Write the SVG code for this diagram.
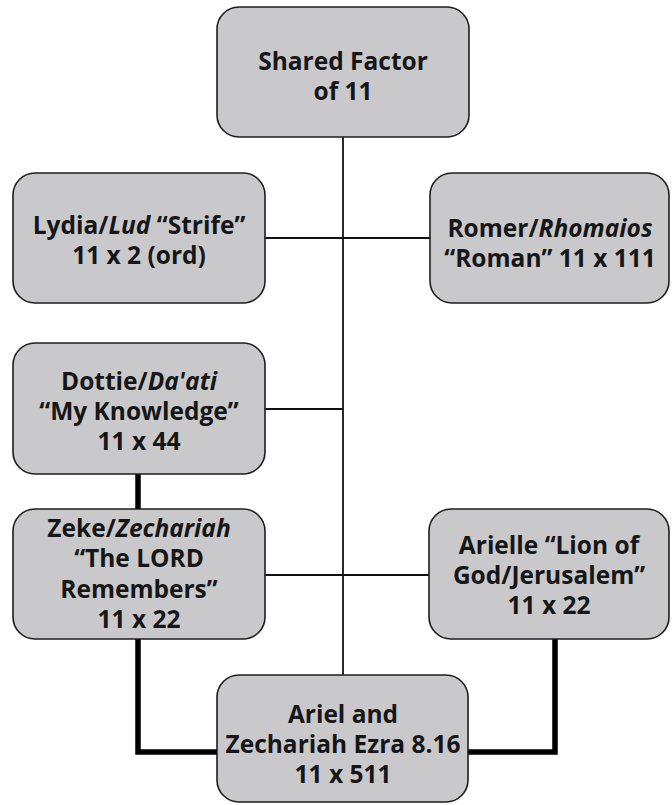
<svg xmlns="http://www.w3.org/2000/svg" width="672" height="805" viewBox="0 0 672 805">
<style>
.box{fill:#c9c9cb;stroke:#1e1e1e;stroke-width:1.6}
.t{font-family:"Open Sans","Liberation Sans",sans-serif;font-weight:700;font-size:24.5px;fill:#161616;text-anchor:middle}
.i{font-style:italic}
.thin{stroke:#111;stroke-width:1.8;fill:none}
.thick{stroke:#000;stroke-width:5.5;fill:none;stroke-linejoin:miter}
</style>
<rect width="672" height="805" fill="#fff"/>
<g id="connectors">
<line class="thin" x1="343" y1="137" x2="343" y2="675"/>
<line class="thin" x1="265" y1="238" x2="430" y2="238"/>
<line class="thin" x1="265" y1="409" x2="343" y2="409"/>
<line class="thin" x1="265" y1="575" x2="429" y2="575"/>
<line class="thick" x1="138" y1="474" x2="138" y2="509"/>
<polyline class="thick" points="138,639 138,752 217,752"/>
<polyline class="thick" points="555,639 555,752 468,752"/>
</g>
<g id="shared">
<rect class="box" x="217" y="7" width="252" height="130" rx="22"/>
<text class="t" x="343" y="70">Shared Factor</text>
<text class="t" x="343" y="100">of 11</text>
</g>
<g id="lydia">
<rect class="box" x="13" y="173" width="252" height="130" rx="22"/>
<text class="t" x="139" y="234">Lydia/<tspan class="i">Lud</tspan> “Strife”</text>
<text class="t" x="139" y="264">11 x 2 (ord)</text>
</g>
<g id="romer">
<rect class="box" x="430" y="173" width="239" height="130" rx="22"/>
<text class="t" x="550" y="237">Romer/<tspan class="i">Rhomaios</tspan></text>
<text class="t" x="550" y="267">“Roman” 11 x 111</text>
</g>
<g id="dottie">
<rect class="box" x="13" y="343" width="252" height="131" rx="22"/>
<text class="t" x="139" y="390">Dottie/<tspan class="i">Da'ati</tspan></text>
<text class="t" x="139" y="420">“My Knowledge”</text>
<text class="t" x="139" y="450">11 x 44</text>
</g>
<g id="zeke">
<rect class="box" x="13" y="509" width="252" height="130" rx="22"/>
<text class="t" x="139" y="537">Zeke/<tspan class="i">Zechariah</tspan></text>
<text class="t" x="139" y="567">“The LORD</text>
<text class="t" x="139" y="598">Remembers”</text>
<text class="t" x="139" y="628">11 x 22</text>
</g>
<g id="arielle">
<rect class="box" x="429" y="509" width="240" height="130" rx="22"/>
<text class="t" x="549" y="554">Arielle “Lion of</text>
<text class="t" x="549" y="584">God/Jerusalem”</text>
<text class="t" x="549" y="614">11 x 22</text>
</g>
<g id="ariel">
<rect class="box" x="217" y="675" width="251" height="127" rx="22"/>
<text class="t" x="343" y="723">Ariel and</text>
<text class="t" x="343" y="753">Zechariah Ezra 8.16</text>
<text class="t" x="343" y="783">11 x 511</text>
</g>
</svg>
